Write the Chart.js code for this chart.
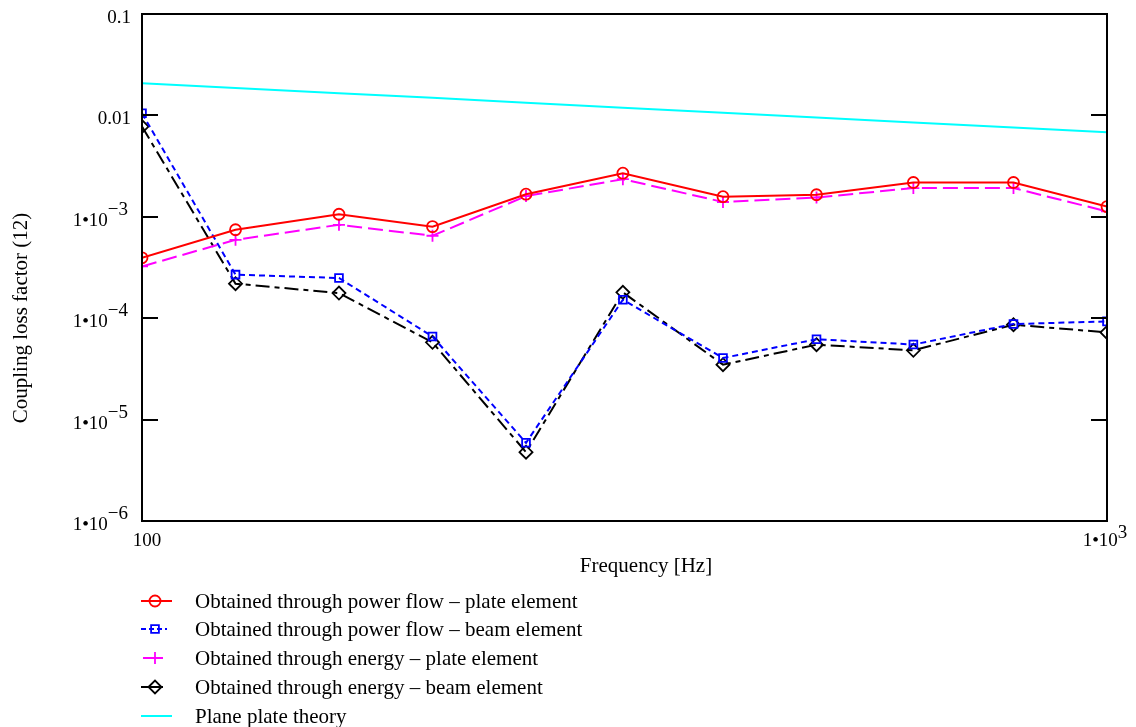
<!DOCTYPE html>
<html>
<head>
<meta charset="utf-8">
<script src="https://cdn.jsdelivr.net/npm/chart.js@4/dist/chart.umd.min.js"></script>
<style>
html,body{margin:0;padding:0;background:#ffffff;}
canvas{display:block;}
</style>
</head>
<body>
<canvas id="c" width="1136" height="727"></canvas>
<script>
// ---------- data ----------
const frequencies = [100, 125, 160, 200, 250, 315, 400, 500, 630, 800, 1000];
const powerFlowPlate = [3.94e-4, 7.45e-4, 1.06e-3, 8.0e-4, 1.67e-3, 2.69e-3, 1.58e-3, 1.65e-3, 2.18e-3, 2.18e-3, 1.26e-3];
const powerFlowBeam  = [1.05e-2, 2.69e-4, 2.49e-4, 6.6e-5, 5.9e-6, 1.52e-4, 4.05e-5, 6.2e-5, 5.5e-5, 8.75e-5, 9.3e-5];
const energyPlate    = [3.24e-4, 5.93e-4, 8.34e-4, 6.5e-4, 1.6e-3, 2.35e-3, 1.4e-3, 1.55e-3, 1.92e-3, 1.92e-3, 1.13e-3];
const energyBeam     = [7.76e-3, 2.19e-4, 1.77e-4, 5.78e-5, 4.77e-6, 1.80e-4, 3.48e-5, 5.48e-5, 4.82e-5, 8.63e-5, 7.24e-5];
const planePlateTheory = [0.0207, 0.0186, 0.0165, 0.0149, 0.0133, 0.0119, 0.0106, 0.00953, 0.00853, 0.00760, 0.00682];

const seriesLabels = [
  'Obtained through power flow – plate element',
  'Obtained through power flow – beam element',
  'Obtained through energy – plate element',
  'Obtained through energy – beam element',
  'Plane plate theory'
];

const yTickValues   = [0.1, 0.01, 1e-3, 1e-4, 1e-5, 1e-6];
const yTickMantissa = ['0.1', '0.01', '1•10', '1•10', '1•10', '1•10'];
const yTickExponent = ['', '', '−3', '−4', '−5', '−6'];
const xTickValues   = [100, 1000];
const xTickMantissa = ['100', '1•10'];
const xTickExponent = ['', '3'];

const xTitle = 'Frequency [Hz]';
const yTitle = 'Coupling loss factor (12)';

// ---------- helpers ----------
function toPoints(values) {
  return frequencies.map((f, i) => ({ x: f, y: values[i] }));
}

const SERIF = '"Liberation Serif", "Times New Roman", serif';

const styles = [
  { color: '#ff0000', dash: [], pointStyle: 'circle', radius: 5.5 },
  { color: '#0000ff', dash: [6, 4], pointStyle: 'rect', radius: 5.5 },
  { color: '#ff00ff', dash: [15, 6], pointStyle: 'cross', radius: 6 },
  { color: '#000000', dash: [14, 5, 5, 5], pointStyle: 'rectRot', radius: 6.5 },
  { color: '#00ffff', dash: [], pointStyle: false, radius: 0 }
];
const seriesValues = [powerFlowPlate, powerFlowBeam, energyPlate, energyBeam, planePlateTheory];

const datasets = seriesValues.map((vals, i) => ({
  label: seriesLabels[i],
  data: toPoints(vals),
  borderColor: styles[i].color,
  backgroundColor: 'rgba(0,0,0,0)',
  borderWidth: 2,
  borderDash: styles[i].dash,
  pointStyle: styles[i].pointStyle,
  pointRadius: styles[i].radius,
  pointBorderColor: styles[i].color,
  pointBackgroundColor: 'rgba(0,0,0,0)',
  pointBorderWidth: 1.8,
  tension: 0,
  fill: false
}));

function drawMarker(ctx, style, x, y, color) {
  const r = style.radius;
  ctx.save();
  ctx.setLineDash([]);
  ctx.strokeStyle = color;
  ctx.lineWidth = 1.8;
  ctx.beginPath();
  if (style.pointStyle === 'circle') {
    ctx.arc(x, y, r, 0, Math.PI * 2);
  } else if (style.pointStyle === 'rect') {
    const s = Math.SQRT1_2 * r;
    ctx.rect(x - s, y - s, 2 * s, 2 * s);
  } else if (style.pointStyle === 'cross') {
    ctx.moveTo(x - r, y); ctx.lineTo(x + r, y);
    ctx.moveTo(x, y - r); ctx.lineTo(x, y + r);
  } else if (style.pointStyle === 'rectRot') {
    ctx.moveTo(x - r, y); ctx.lineTo(x, y - r); ctx.lineTo(x + r, y); ctx.lineTo(x, y + r); ctx.closePath();
  }
  ctx.stroke();
  ctx.restore();
}

const decorPlugin = {
  id: 'decor',
  afterDraw(chart) {
    const ctx = chart.ctx;
    const area = chart.chartArea;
    const xs = chart.scales.x, ys = chart.scales.y;
    ctx.save();
    // frame
    ctx.strokeStyle = '#000';
    ctx.lineWidth = 2;
    ctx.setLineDash([]);
    ctx.strokeRect(area.left, area.top, area.right - area.left, area.bottom - area.top);
    // inner ticks left & right
    const tickLen = 16;
    yTickValues.forEach(v => {
      const y = Math.round(ys.getPixelForValue(v));
      ctx.beginPath();
      ctx.moveTo(area.left, y); ctx.lineTo(area.left + tickLen, y);
      ctx.moveTo(area.right - tickLen, y); ctx.lineTo(area.right, y);
      ctx.stroke();
    });
    // y tick labels
    ctx.fillStyle = '#000';
    ctx.font = '19px ' + SERIF;
    ctx.textBaseline = 'middle';
    yTickValues.forEach((v, i) => {
      const y = ys.getPixelForValue(v);
      const rightEdge = area.left - 11;
      const exp = yTickExponent[i];
      ctx.textAlign = 'right';
      if (exp) {
        const ew = ctx.measureText(exp).width;
        ctx.fillText(exp, rightEdge - 3, y - 7);
        ctx.fillText(yTickMantissa[i], rightEdge - 3 - ew, y + 4);
      } else {
        ctx.fillText(yTickMantissa[i], rightEdge, y + 4);
      }
    });
    // x tick labels
    xTickValues.forEach((v, i) => {
      const x = xs.getPixelForValue(v);
      const mant = xTickMantissa[i], exp = xTickExponent[i];
      const mw = ctx.measureText(mant).width;
      const ew = exp ? ctx.measureText(exp).width : 0;
      const total = mw + ew;
      const start = x + (exp ? -2 : 5) - total / 2;
      ctx.textAlign = 'left';
      ctx.fillText(mant, start, area.bottom + 20);
      if (exp) ctx.fillText(exp, start + mw, area.bottom + 12);
    });
    // axis titles
    ctx.font = '21px ' + SERIF;
    ctx.textAlign = 'center';
    ctx.textBaseline = 'alphabetic';
    ctx.fillText(xTitle, 646, 572);
    ctx.save();
    ctx.translate(27, 318);
    ctx.rotate(-Math.PI / 2);
    ctx.fillText(yTitle, 0, 0);
    ctx.restore();
    // legend
    const rows = [601, 629, 658, 687, 716];
    const symLines = [[141, 172], [141, 167], [141, 163], [141, 163], [141, 172]];
    ctx.font = '21px ' + SERIF;
    ctx.textAlign = 'left';
    ctx.textBaseline = 'middle';
    chart.data.datasets.forEach((ds, i) => {
      const y = rows[i];
      ctx.strokeStyle = ds.borderColor;
      ctx.lineWidth = 2;
      ctx.setLineDash(i === 1 ? [5, 3] : []);
      ctx.beginPath();
      ctx.moveTo(symLines[i][0], y); ctx.lineTo(symLines[i][1], y);
      if (i !== 2) ctx.stroke();
      ctx.setLineDash([]);
      if (styles[i].pointStyle) drawMarker(ctx, styles[i], 155, y, ds.borderColor);
      if (i === 2) {
        ctx.beginPath(); ctx.moveTo(143, y); ctx.lineTo(163, y); ctx.stroke();
      }
      ctx.fillStyle = '#000';
      ctx.fillText(ds.label, 195, y + 1);
    });
    ctx.restore();
  }
};

new Chart(document.getElementById('c'), {
  type: 'line',
  data: { datasets },
  options: {
    responsive: false,
    animation: false,
    devicePixelRatio: 1,
    layout: { padding: { left: 142, right: 29, top: 14, bottom: 206 } },
    scales: {
      x: { type: 'logarithmic', min: 100, max: 1000, display: false },
      y: { type: 'logarithmic', min: 1e-6, max: 0.1, display: false }
    },
    plugins: { legend: { display: false }, tooltip: { enabled: false } }
  },
  plugins: [decorPlugin]
});
</script>
</body>
</html>
